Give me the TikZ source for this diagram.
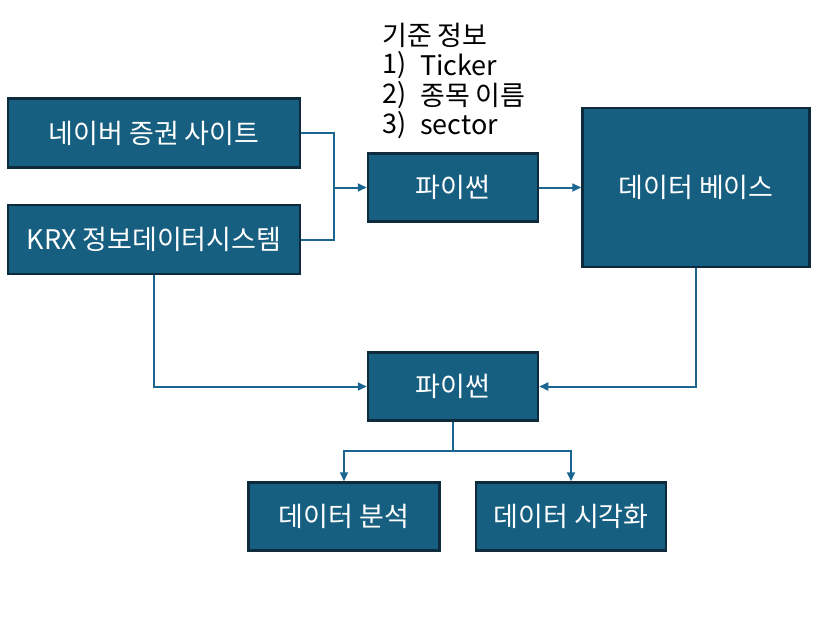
\documentclass[tikz,border=0pt]{standalone}
\usepackage{fontspec}
\setmainfont{Noto Sans CJK KR}
\usetikzlibrary{arrows.meta}
\definecolor{boxfill}{HTML}{175F80}
\definecolor{boxline}{HTML}{0E2A3D}
\definecolor{connc}{HTML}{1B6690}
\tikzset{
  box/.style={draw=boxline, line width=2.5pt, fill=boxfill, text=white,
    font=\fontsize{27}{31}\selectfont, inner sep=0pt},
  conn/.style={draw=connc, line width=2pt},
  arr/.style={conn, -{Triangle[length=9pt,width=8pt]}},
  note/.style={anchor=west, inner sep=0pt, font=\fontsize{27}{31}\selectfont, text=black}
}
\begin{document}
\begin{tikzpicture}[x=1pt,y=-1pt]
\useasboundingbox (0,0) rectangle (830,618);
\node[box, minimum width=292pt, minimum height=69pt] (naver) at (154,133) {네이버 증권 사이트};
\node[box, minimum width=292pt, minimum height=69pt] (krx) at (154,239.5) {KRX 정보데이터시스템};
\node[box, minimum width=170pt, minimum height=68pt] (py1) at (453,187.5) {파이썬};
\node[box, minimum width=227pt, minimum height=159pt] (db) at (696,187.5) {데이터 베이스};
\node[box, minimum width=170pt, minimum height=68pt] (py2) at (453,386.5) {파이썬};
\node[box, minimum width=191pt, minimum height=68pt] (ana) at (344,516.5) {데이터 분석};
\node[box, minimum width=190pt, minimum height=68pt] (vis) at (571,516.5) {데이터 시각화};

\node[note] (title) at (382,35) {기준 정보};
\node[note] (n1) at (382,65) {1)};
\node[note] (t1) at (420,65) {Ticker};
\node[note] (n2) at (382,95) {2)};
\node[note] (t2) at (420,95) {종목 이름};
\node[note] (n3) at (382,125) {3)};
\node[note] (t3) at (420,125) {sector};

\coordinate (j1) at (334,187.5);
\coordinate (j2) at (453,451);
\draw[conn] (naver.east) -| (j1);
\draw[conn] (krx.east) -| (j1);
\draw[arr] (j1) -- (py1.west);
\draw[arr] (py1.east) -- (db.west);
\draw[arr] (db.south) |- (py2.east);
\draw[arr] (krx.south) |- (py2.west);
\draw[conn] (py2.south) -- (j2);
\draw[arr] (j2) -| (ana.north);
\draw[arr] (j2) -| (vis.north);
\end{tikzpicture}
\end{document}
